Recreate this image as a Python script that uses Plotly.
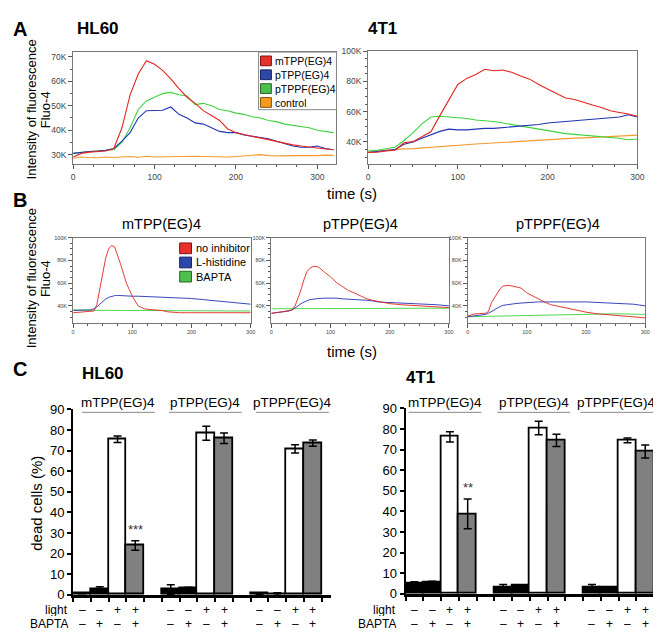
import plotly.graph_objects as go

W, H = 661, 632

# ---------------------------------------------------------------------
# Data - panel A (Fluo-4 intensity, in thousands)
# ---------------------------------------------------------------------
t_hl60 = list(range(0, 330, 10))
hl60_mtpp = [29.0, 30.5, 31.0, 31.2, 31.5, 32.5, 41.0, 54.5, 63.0, 68.5, 67.0, 64.5, 61.0, 57.0, 53.5, 51.0, 48.0,
             46.0, 44.0, 40.5, 39.0, 38.2, 37.5, 36.8, 36.0, 35.5, 34.5, 34.0, 33.5, 33.0, 32.8, 32.3, 32.0]
hl60_ptpp = [30.5, 31.0, 31.3, 31.5, 31.8, 32.5, 35.5, 39.0, 45.0, 48.0, 48.0, 48.2, 49.5, 46.5, 45.0, 43.0, 42.5,
             41.0, 39.5, 39.0, 39.0, 38.0, 37.5, 37.0, 36.5, 35.5, 34.5, 33.5, 33.0, 33.0, 33.5, 32.5, 32.0]
hl60_ptppf = [30.5, 31.0, 31.3, 31.5, 31.8, 32.0, 35.0, 41.0, 48.5, 52.0, 53.5, 55.0, 55.5, 54.5, 54.0, 50.5, 51.0,
              50.0, 48.5, 48.0, 47.0, 46.5, 45.5, 45.0, 44.0, 43.5, 42.5, 42.0, 41.5, 41.0, 40.0, 39.5, 39.0]
hl60_ctrl = [28.5, 29.0, 28.8, 28.7, 29.0, 28.8, 29.0, 29.2, 28.9, 29.3, 29.0, 29.1, 29.0, 29.2, 29.4, 29.3, 29.2,
             29.1, 29.3, 29.0, 29.2, 29.4, 29.5, 30.0, 29.6, 29.4, 29.5, 29.6, 29.5, 29.7, 29.6, 29.8, 29.7]

t_4t1 = list(range(0, 310, 10))
t41_mtpp = [33.0, 33.2, 34.0, 34.5, 39.5, 40.2, 43.4, 46.7, 57.4, 68.0, 78.0, 82.0, 84.5, 88.0, 87.0, 87.5,
            86.0, 83.5, 81.5, 78.0, 75.0, 72.5, 69.0, 68.0, 66.0, 64.4, 62.8, 60.6, 59.5, 58.5, 57.0]
t41_ptpp = [33.0, 33.5, 34.0, 35.0, 38.5, 40.0, 42.5, 45.0, 47.0, 48.5, 48.0, 48.0, 48.5, 49.0, 49.0, 49.5,
            50.0, 50.5, 51.0, 51.5, 52.5, 53.0, 53.5, 54.0, 54.5, 55.0, 55.5, 56.0, 56.5, 58.0, 56.5]
t41_ptppf = [34.0, 34.5, 35.5, 36.5, 41.0, 46.0, 52.0, 56.5, 57.0, 56.5, 56.0, 55.5, 54.5, 54.0, 53.5, 52.5,
             51.5, 50.5, 49.5, 48.5, 47.5, 46.5, 45.5, 45.0, 44.5, 44.0, 43.5, 43.0, 42.5, 41.5, 42.0]
t41_ctrl = [33.5, 34.0, 34.6, 35.0, 35.4, 35.6, 36.1, 36.5, 37.0, 37.6, 38.0, 38.2, 38.7, 39.0, 39.4, 39.6,
            40.1, 40.4, 40.9, 41.1, 41.5, 41.9, 42.1, 42.5, 42.7, 43.1, 43.3, 43.7, 43.9, 44.2, 44.5]

# ---------------------------------------------------------------------
# Data - panel B (with inhibitors)
# ---------------------------------------------------------------------
t_b = [0, 10, 20, 30, 35, 40, 45, 50, 55, 60, 65, 70, 75, 80, 90, 100, 110, 120, 130, 140, 150, 160, 170,
       180, 190, 200, 220, 240, 260, 280, 300]
b_mtpp_none = [34.0, 34.5, 35.0, 35.0, 35.5, 41.0, 55.0, 71.0, 82.0, 90.0, 93.0, 92.0, 85.0, 77.0, 60.0, 48.5,
               40.0, 37.5, 36.8, 36.5, 36.0, 34.8, 34.2, 34.0, 34.0, 34.0, 34.0, 33.8, 34.0, 34.0, 34.0]
b_mtpp_his = [36.0, 36.0, 36.2, 36.5, 37.5, 39.0, 41.5, 44.0, 46.0, 47.5, 48.5, 49.0, 49.2, 49.0, 48.8, 48.5,
              48.5, 48.3, 48.2, 48.0, 48.0, 47.8, 47.5, 47.2, 46.8, 46.5, 45.5, 44.5, 43.5, 42.5, 41.5]
b_mtpp_bapta = [36.5, 36.3, 36.2, 36.0, 36.0, 36.1, 36.0, 35.9, 36.0, 36.1, 36.0, 35.9, 36.0, 36.0, 35.9, 36.0,
                36.0, 35.9, 36.0, 35.8, 35.9, 35.8, 35.8, 35.9, 35.7, 35.8, 35.7, 35.6, 35.7, 35.6, 35.5]
b_ptpp_none = [33.5, 34.0, 35.0, 36.0, 36.5, 40.0, 47.0, 54.0, 63.0, 70.0, 73.0, 74.5, 74.8, 74.0, 69.5, 65.5,
               60.5, 57.0, 53.6, 51.4, 48.6, 46.5, 45.0, 44.0, 42.5, 42.0, 41.0, 40.5, 40.0, 39.0, 38.5]
b_ptpp_his = [33.5, 34.0, 34.5, 35.5, 36.5, 38.0, 40.0, 42.0, 43.5, 44.5, 45.5, 46.0, 46.3, 46.5, 46.8, 47.0,
              46.8, 46.2, 46.0, 45.8, 45.5, 45.0, 44.5, 43.5, 43.2, 43.0, 42.5, 42.0, 41.5, 41.0, 40.0]
b_ptpp_bapta = [37.5, 37.5, 37.4, 37.5, 37.6, 37.5, 37.5, 37.6, 37.5, 37.5, 37.6, 37.5, 37.6, 37.5, 37.6, 37.7,
                37.6, 37.7, 37.7, 37.8, 37.7, 37.8, 37.8, 37.9, 37.8, 37.9, 37.9, 38.0, 37.9, 38.0, 38.0]
b_ptppf_none = [31.0, 32.8, 33.3, 33.5, 35.0, 42.5, 47.0, 51.0, 55.0, 57.5, 58.0, 58.0, 57.5, 57.0, 55.7, 51.4,
                48.6, 45.5, 43.4, 41.1, 40.0, 39.0, 37.5, 36.5, 35.5, 34.5, 33.0, 32.0, 31.0, 30.0, 29.5]
b_ptppf_his = [30.5, 31.0, 31.5, 32.5, 33.5, 35.0, 37.0, 38.5, 39.5, 40.5, 41.0, 41.5, 41.8, 42.0, 42.5, 43.0,
               43.2, 43.5, 43.5, 43.6, 43.5, 43.6, 43.5, 43.4, 43.5, 43.5, 43.0, 42.5, 42.0, 41.5, 40.0]
b_ptppf_bapta = [30.5, 30.6, 30.7, 30.8, 30.9, 31.0, 31.0, 31.0, 31.2, 31.3, 31.4, 31.5, 31.6, 31.8, 32.0, 32.0,
                 32.2, 32.3, 32.4, 32.5, 32.5, 32.7, 32.8, 32.9, 33.0, 33.0, 33.0, 33.0, 33.0, 32.8, 32.5]

# ---------------------------------------------------------------------
# Data - panel C (dead cells %)
# ---------------------------------------------------------------------
compounds = ["mTPP(EG)4", "pTPP(EG)4", "pTPPF(EG)4"]
light_signs = ["\u2013", "\u2013", "+", "+"]
bapta_signs = ["\u2013", "+", "\u2013", "+"]
hl60_dead = [[0.8, 2.5, 75.5, 24.0], [2.5, 3.2, 78.4, 76.0], [0.5, 0.4, 70.8, 73.6]]
hl60_dead_err = [[0.3, 1.5, 1.6, 2.3], [2.4, 0.5, 3.4, 2.6], [0.3, 0.6, 2.0, 1.5]]
t41_dead = [[5.2, 5.7, 76.2, 38.8], [3.3, 4.0, 80.5, 74.5], [3.3, 3.1, 74.5, 69.1]]
t41_dead_err = [[0.7, 0.4, 2.5, 7.2], [1.3, 0.3, 3.3, 3.0], [1.3, 0.3, 1.2, 3.2]]
stars = {"HL60": "***", "4T1": "**"}

RED, BLUE, GREEN, ORANGE = "#e3261e", "#2233b4", "#3dd23d", "#f59a2e"
FONT = "Liberation Sans, Arial, sans-serif"


def X(px):
    return px / W


def Y(py):
    return 1 - py / H


fig = go.Figure()
annotations = []
shapes = []


def add_text(text, px, py, size, bold=False, angle=0, xanchor="center", color="black", height=None):
    if bold:
        text = "<b>" + text + "</b>"
    ann = dict(text=text, x=X(px), y=Y(py), xref="paper", yref="paper", showarrow=False,
               xanchor=xanchor, yanchor="middle", textangle=angle,
               font=dict(size=size, color=color, family=FONT))
    if height:
        ann.update(height=height, borderpad=0)
    annotations.append(ann)


def trace_axes(n, x0, x1, y0, y1, yrange, ydtick, fsize, xmax=300):
    key = "" if n == 1 else str(n)
    common = dict(showline=True, mirror=True, linecolor="#777", linewidth=1, ticks="outside", ticklen=4,
                  tickcolor="#555", showgrid=False, zeroline=False,
                  tickfont=dict(size=fsize, color="#444", family=FONT))
    fig.layout["xaxis" + key] = dict(domain=[X(x0), X(x1)], range=[0, xmax], anchor="y" + key, tick0=0,
                                     dtick=100, minor=dict(dtick=25, ticks="outside", ticklen=2,
                                                           tickcolor="#555"), **common)
    fig.layout["yaxis" + key] = dict(domain=[Y(y1), Y(y0)], range=yrange, anchor="x" + key, tick0=0,
                                     dtick=ydtick, ticksuffix="K",
                                     minor=dict(dtick=5, ticks="outside", ticklen=2, tickcolor="#555"), **common)


def add_lines(n, t, series, width):
    key = "" if n == 1 else str(n)
    for vals, col in series:
        fig.add_trace(go.Scatter(x=t, y=vals, mode="lines", line=dict(color=col, width=width),
                                 xaxis="x" + key, yaxis="y" + key, showlegend=False, hoverinfo="skip"))


# ---------------------------------------------------------------------
# Panel A
# ---------------------------------------------------------------------
trace_axes(1, 64, 331, 38, 153, [26, 72], 10, 8.5, xmax=323.6)
trace_axes(2, 363, 636, 37, 153, [25.2, 100], 20, 8.5)
add_lines(1, t_hl60, [(hl60_ctrl, ORANGE), (hl60_ptppf, GREEN), (hl60_ptpp, BLUE), (hl60_mtpp, RED)], 1.1)
add_lines(2, t_4t1, [(t41_ctrl, ORANGE), (t41_ptppf, GREEN), (t41_ptpp, BLUE), (t41_mtpp, RED)], 1.1)

# legend A
shapes.append(dict(type="rect", xref="paper", yref="paper", x0=X(252), x1=X(331), y0=Y(97), y1=Y(38),
                   line=dict(color="#888", width=1), fillcolor="white"))
legend_a = [("mTPP(EG)4", "#e8302a", "#7a1410"), ("pTPP(EG)4", "#2d48a8", "#162460"),
            ("pTPPF(EG)4", "#4dbf4d", "#256a25"), ("control", "#f79a1e", "#8a5208")]
for i, (lab, fill, edge) in enumerate(legend_a):
    cy = 47 + i * 14.2
    shapes.append(dict(type="rect", xref="paper", yref="paper", x0=X(254), x1=X(265), y0=Y(cy + 5),
                       y1=Y(cy - 5), fillcolor=fill, line=dict(color=edge, width=1)))
    add_text(lab, 268, cy, 10.5, xanchor="left", height=13)

add_text("A", 10, 14, 20, bold=True)
add_text("HL60", 89, 14, 17, bold=True)
add_text("4T1", 378, 14, 17, bold=True)
add_text("time (s)", 347, 183, 15)
add_text("Intensity of fluorescence", 22, 97, 13, angle=-90)
add_text("Fluo-4", 36, 97, 13, angle=-90)

# ---------------------------------------------------------------------
# Panel B
# ---------------------------------------------------------------------
b_boxes = [(64, 244), (265, 445), (464, 644)]
b_series = [(b_mtpp_none, b_mtpp_his, b_mtpp_bapta), (b_ptpp_none, b_ptpp_his, b_ptpp_bapta),
            (b_ptppf_none, b_ptppf_his, b_ptppf_bapta)]
for i, ((x0, x1), (none, his, bap)) in enumerate(zip(b_boxes, b_series)):
    n = 3 + i
    trace_axes(n, x0, x1, 228, 315, [25.4, 100], 20, 5.5)
    add_lines(n, t_b, [(bap, GREEN), (his, BLUE), (none, RED)], 0.9)
    add_text(compounds[i], (x0 + x1) / 2 + (2 if i == 2 else 0), 214, 14.5)

legend_b = [("no inhibitor", "#e8302a", "#7a1410"), ("L-histidine", "#2d48a8", "#162460"),
            ("BAPTA", "#4dbf4d", "#256a25")]
for i, (lab, fill, edge) in enumerate(legend_b):
    cy = 239 + i * 14.5
    shapes.append(dict(type="rect", xref="paper", yref="paper", x0=X(172), x1=X(184), y0=Y(cy + 5.5),
                       y1=Y(cy - 5.5), fillcolor=fill, line=dict(color=edge, width=1)))
    add_text(lab, 188, cy, 11, xanchor="left", height=14)

add_text("B", 10, 190, 20, bold=True)
add_text("time (s)", 347, 345, 15)
add_text("Intensity of fluorescence", 22, 270, 13, angle=-90)
add_text("Fluo-4", 36, 270, 13, angle=-90)

# ---------------------------------------------------------------------
# Panel C
# ---------------------------------------------------------------------
bar_fill = ["black", "black", "white", "#808080"]
c_panels = [("HL60", 6, 64, 325, 404, 594, [-0.5, 14.0], hl60_dead, hl60_dead_err, 60, [2.05, 6.95, 11.85]),
            ("4T1", 7, 401, 653, 403, 593, [-0.5, 13.5], t41_dead, t41_dead_err, 392, [1.72, 6.72, 11.4])]
for name, n, x0, x1, y0, y1, xr, means, errs, lab_right, head_x in c_panels:
    key = str(n)
    xs, ys, es, cols = [], [], [], []
    edges = []
    for g in range(3):
        for b in range(4):
            xs.append(g * 5 + b)
            ys.append(means[g][b])
            es.append(errs[g][b])
            cols.append(bar_fill[b])
        edges += [g * 5 + k - 0.5 for k in range(5)]
    fig.add_trace(go.Bar(x=xs, y=ys, width=1, marker=dict(color=cols, line=dict(color="black", width=1.8)),
                         error_y=dict(type="data", array=es, color="black", thickness=1.5, width=4),
                         xaxis="x" + key, yaxis="y" + key, showlegend=False, hoverinfo="skip"))
    fig.layout["xaxis" + key] = dict(domain=[X(x0), X(x1)], range=xr, anchor="y" + key, showline=True,
                                     linecolor="black", linewidth=2.5, ticks="outside", ticklen=4, tickwidth=1.5,
                                     tickcolor="black", tickvals=edges, ticktext=[""] * len(edges),
                                     showgrid=False, zeroline=False)
    fig.layout["yaxis" + key] = dict(domain=[Y(y1), Y(y0)], range=[0, 90], anchor="x" + key, showline=True,
                                     linecolor="black", linewidth=2, ticks="outside", ticklen=4, tickwidth=1.5,
                                     tickcolor="black", dtick=10, showgrid=False, zeroline=False,
                                     tickfont=dict(size=13, color="black", family=FONT))
    # group headers
    for g in range(3):
        hx = head_x[g]
        shapes.append(dict(type="line", xref="x" + key, yref="paper", x0=hx - 2.05, x1=hx + 2.05,
                           y0=Y(407), y1=Y(407), line=dict(color="#888", width=1)))
        annotations.append(dict(text=compounds[g], x=hx, y=Y(397), xref="x" + key, yref="paper",
                                showarrow=False, yanchor="middle", height=15, borderpad=0,
                                font=dict(size=13.5, color="black", family=FONT)))
        for b in range(4):
            for sign, py in ((light_signs[b], 609), (bapta_signs[b], 623.5)):
                annotations.append(dict(text=sign, x=g * 5 + b, y=Y(py), xref="x" + key, yref="paper",
                                        showarrow=False, yanchor="middle", height=11, borderpad=0,
                                        font=dict(size=12, color="black", family=FONT)))
    annotations.append(dict(text=stars[name], x=3, y=means[0][3] + errs[0][3] + 0.8, xref="x" + key,
                            yref="y" + key, showarrow=False, yanchor="bottom",
                            font=dict(size=13, color="#333", family=FONT)))
    add_text("light", lab_right, 609, 12, xanchor="right", height=13)
    add_text("BAPTA", lab_right, 623.5, 12, xanchor="right", height=13)

add_text("C", 10, 363, 20, bold=True)
add_text("HL60", 94, 367, 17, bold=True)
add_text("4T1", 416, 371, 17, bold=True)
add_text("dead cells (%)", 27, 500, 15, angle=-90)

fig.update_layout(width=W, height=H, margin=dict(l=0, r=0, t=0, b=0), paper_bgcolor="white",
                  plot_bgcolor="white", annotations=annotations, shapes=shapes, bargap=0,
                  font=dict(family=FONT))
fig.write_html("out.html")
